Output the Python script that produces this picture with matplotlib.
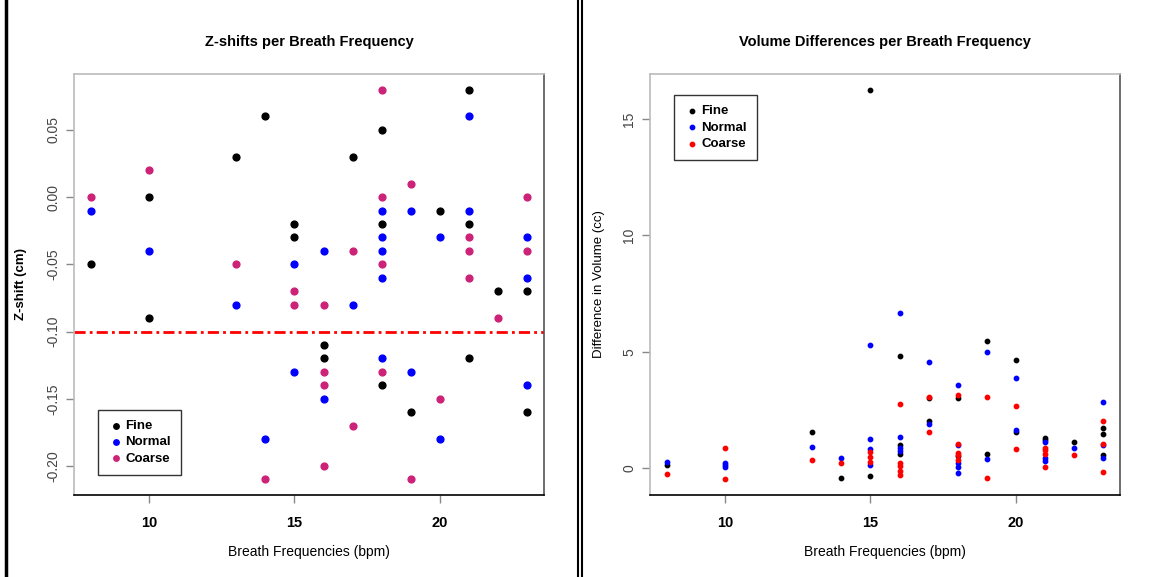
import matplotlib.pyplot as plt
from matplotlib.lines import Line2D

plt.rcParams['font.family'] = ['Liberation Sans', 'DejaVu Sans']

# ---- Z-shifts per breath frequency (left panel) ----
z_fine_x = [8, 10, 10, 13, 14, 15, 15, 16, 16, 17, 18, 18, 18, 19, 20, 21, 21, 21, 22, 23, 23]
z_fine_y = [-0.05, 0.00, -0.09, 0.03, 0.06, -0.02, -0.03, -0.11, -0.12, 0.03, 0.05, -0.02, -0.14,
            -0.16, -0.01, 0.08, -0.02, -0.12, -0.07, -0.07, -0.16]
z_norm_x = [8, 10, 13, 14, 15, 15, 16, 16, 17, 18, 18, 18, 18, 18, 19, 19, 20, 20, 21, 21, 23, 23, 23]
z_norm_y = [-0.01, -0.04, -0.08, -0.18, -0.05, -0.13, -0.04, -0.15, -0.08, -0.01, -0.03, -0.04,
            -0.06, -0.12, -0.01, -0.13, -0.03, -0.18, 0.06, -0.01, -0.03, -0.06, -0.14]
z_coarse_x = [8, 10, 13, 14, 15, 15, 16, 16, 16, 16, 17, 17, 18, 18, 18, 18, 19, 19, 20, 21, 21, 21, 22, 23, 23]
z_coarse_y = [0.00, 0.02, -0.05, -0.21, -0.07, -0.08, -0.08, -0.13, -0.14, -0.20, -0.04, -0.17,
              0.08, 0.00, -0.05, -0.13, 0.01, -0.21, -0.15, -0.03, -0.04, -0.06, -0.09, 0.00, -0.04]
z_threshold = -0.10

# ---- Volume differences per breath frequency (right panel) ----
v_fine_x = [8, 13, 14, 15, 15, 16, 16, 16, 17, 17, 18, 18, 19, 19, 20, 20, 21, 21, 22, 23, 23, 23]
v_fine_y = [0.15, 1.55, -0.41, 16.26, -0.36, 4.83, 1.0, 0.62, 3.0, 2.03, 3.0, 0.5, 5.45, 0.62,
            4.63, 1.54, 1.29, 1.22, 1.1, 1.72, 1.44, 0.57]
v_norm_x = [8, 10, 10, 10, 13, 14, 15, 15, 15, 15, 16, 16, 16, 16, 17, 17, 18, 18, 18, 18, 18,
            19, 19, 20, 20, 21, 21, 21, 22, 23, 23, 23]
v_norm_y = [0.27, 0.23, 0.13, 0.04, 0.9, 0.45, 5.27, 1.24, 0.8, 0.15, 6.64, 1.34, 0.87, 0.75,
            4.57, 1.91, 3.55, 1.0, 0.2, 0.06, -0.23, 4.97, 0.38, 3.85, 1.62, 1.11, 0.44, 0.3,
            0.87, 2.85, 1.0, 0.44]
v_coarse_x = [8, 10, 10, 13, 14, 15, 15, 15, 16, 16, 16, 16, 16, 17, 17, 18, 18, 18, 18, 18,
              19, 19, 20, 20, 21, 21, 21, 21, 22, 23, 23, 23]
v_coarse_y = [-0.24, 0.85, -0.49, 0.34, 0.21, 0.7, 0.47, 0.24, 2.73, 0.2, 0.08, -0.13, -0.32,
              3.05, 1.55, 3.13, 1.05, 0.65, 0.56, 0.34, 3.06, -0.41, 2.65, 0.82, 0.88, 0.77,
              0.62, 0.04, 0.56, 2.0, 1.05, -0.17]

W, H = 1149, 577
fig = plt.figure(figsize=(W / 100, H / 100), dpi=100)


def box(px_left, px_top, px_right, px_bottom):
    return [px_left / W, 1 - px_bottom / H, (px_right - px_left) / W, (px_bottom - px_top) / H]


def style_axes(ax, title, ylabel, ylabel_bold, ylabelpad):
    ax.margins(x=0.04, y=0.04)
    ax.set_xticks([10, 15, 20])
    ax.tick_params(axis='x', length=6, width=1, color='#888888', pad=9, labelsize=10.5)
    ax.tick_params(axis='y', length=6, width=1, color='#888888', pad=4, labelsize=10,
                   labelrotation=90, labelcolor='#444444')
    for lab in ax.get_xticklabels():
        lab.set_fontweight('bold')
    for lab in ax.get_yticklabels():
        lab.set_va('center')
    ax.spines['top'].set_color('#bbbbbb')
    ax.spines['left'].set_color('#bbbbbb')
    ax.spines['right'].set_color('#555555')
    ax.spines['bottom'].set_color('black')
    for s in ax.spines.values():
        s.set_linewidth(1.2)
    ax.set_title(title, fontsize=10.5, fontweight='bold', pad=20)
    ax.set_xlabel('Breath Frequencies (bpm)', fontsize=10, labelpad=11)
    ax.set_ylabel(ylabel, fontsize=9.5, fontweight='bold' if ylabel_bold else 'normal',
                  labelpad=ylabelpad)


legend_kw = dict(fancybox=False, edgecolor='#333333', framealpha=1, handletextpad=0.1,
                 borderpad=0.75, labelspacing=0.32, handlelength=1.2, borderaxespad=0,
                 prop={'weight': 'bold', 'size': 9.5})

# left panel
ax1 = fig.add_axes(box(74, 74, 544, 495))
pink = '#CC2277'
ax1.scatter(z_fine_x, z_fine_y, s=24, color='black', label='Fine', zorder=3)
ax1.scatter(z_norm_x, z_norm_y, s=24, color='#0000FF', label='Normal', zorder=3)
ax1.scatter(z_coarse_x, z_coarse_y, s=24, color=pink, label='Coarse', zorder=3)
ax1.axhline(z_threshold, color='red', lw=2, linestyle=(0, (4, 1.5, 1, 1.5)), zorder=2)
ax1.set_yticks([0.05, 0.00, -0.05, -0.10, -0.15, -0.20])
ax1.set_yticklabels(['0.05', '0.00', '-0.05', '-0.10', '-0.15', '-0.20'])
style_axes(ax1, 'Z-shifts per Breath Frequency', 'Z-shift (cm)', True, 14)
ax1.legend(loc='lower left', bbox_to_anchor=(0.051, 0.048), markerscale=0.8, **legend_kw)

# right panel
ax2 = fig.add_axes(box(650, 74, 1120, 495))
ax2.scatter(v_fine_x, v_fine_y, s=10, color='black', label='Fine', zorder=3)
ax2.scatter(v_norm_x, v_norm_y, s=10, color='#0000FF', label='Normal', zorder=3)
ax2.scatter(v_coarse_x, v_coarse_y, s=10, color='#FF0000', label='Coarse', zorder=3)
ax2.set_yticks([0, 5, 10, 15])
style_axes(ax2, 'Volume Differences per Breath Frequency', 'Difference in Volume (cc)', False, 12)
ax2.legend(loc='upper left', bbox_to_anchor=(0.051, 0.95), **legend_kw)

# panel frames
for xpix, lw in [(6, 2.5), (578, 1.5), (582, 1.5)]:
    fig.add_artist(Line2D([xpix / W, xpix / W], [0, 1], color='black', lw=lw))

fig.savefig('out.png', dpi=100)
